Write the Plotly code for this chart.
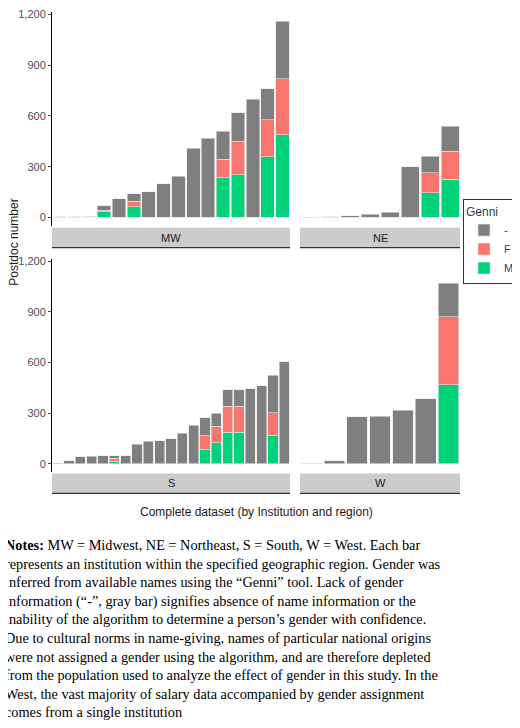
import plotly.graph_objects as go

# per-institution counts (unknown "-", F, M)
mw_dash = [3, 5, 0, 25, 110, 45, 152, 200, 242, 408, 468, 163, 168, 698, 183, 340]
mw_f = [0, 0, 0, 10, 0, 33, 0, 0, 0, 0, 0, 112, 197, 0, 217, 330]
mw_m = [0, 0, 8, 33, 0, 62, 0, 0, 0, 0, 0, 233, 253, 0, 360, 490]

ne_dash = [1, 3, 10, 18, 30, 298, 99, 150]
ne_f = [0, 0, 0, 0, 0, 0, 118, 165]
ne_m = [0, 0, 0, 0, 0, 0, 145, 225]

s_dash = [5, 20, 42, 47, 50, 15, 50, 118, 135, 138, 148, 182, 228, 107, 78, 96, 96, 445, 462, 223, 605]
s_f = [0, 0, 0, 0, 0, 20, 0, 0, 0, 0, 0, 0, 0, 80, 97, 155, 155, 0, 0, 132, 0]
s_m = [0, 0, 0, 0, 0, 15, 0, 0, 0, 0, 0, 0, 0, 88, 125, 187, 187, 0, 0, 170, 0]

w_dash = [0, 20, 280, 282, 318, 385, 198]
w_f = [0, 0, 0, 0, 0, 0, 400]
w_m = [5, 0, 0, 0, 0, 0, 470]

regions = {
    "MW": (mw_dash, mw_f, mw_m),
    "NE": (ne_dash, ne_f, ne_m),
    "S": (s_dash, s_f, s_m),
    "W": (w_dash, w_f, w_m),
}
y_ticks = [0, 300, 600, 900, 1200]
colors = {"-": "#7f7f7f", "F": "#f8766d", "M": "#00d27a"}

W, H = 512.0, 720.0
OFF = 8  # page body margin pushes the figure down/right

def py(p):
    return 1 - (p - OFF) / H

def px(p):
    return (p - OFF) / W

xdom = [(px(52), px(290)), (px(300), px(460))]
ydom = [(py(223), py(8)), (py(471), py(256))]
strips = [(py(245), py(225)), (py(492), py(472))]

fig = go.Figure()
layout = {}
for i, (name, (d, f, m)) in enumerate(regions.items()):
    row, col = divmod(i, 2)
    n = i + 1
    xa = "x" if n == 1 else f"x{n}"
    ya = "y" if n == 1 else f"y{n}"
    cats = [f"{name}{k}" for k in range(len(d))]
    for lab, vals in (("M", m), ("F", f), ("-", d)):
        fig.add_trace(go.Bar(
            x=cats, y=vals, name=lab, xaxis=xa, yaxis=ya,
            marker=dict(color=colors[lab], line=dict(color="#e6e6e6", width=0.6)),
            legendgroup=lab, showlegend=(i == 0),
        ))
    layout["xaxis" if n == 1 else f"xaxis{n}"] = dict(
        domain=xdom[col], anchor=ya, showticklabels=False, ticks="",
        showgrid=False, zeroline=False, showline=False, type="category")
    layout["yaxis" if n == 1 else f"yaxis{n}"] = dict(
        domain=ydom[row], anchor=xa, range=[-50, 1215], tickvals=y_ticks,
        ticktext=[f"{v:,}" for v in y_ticks], showticklabels=(col == 0),
        ticks="outside" if col == 0 else "", ticklen=3, showline=(col == 0),
        linecolor="black", linewidth=1, showgrid=False, zeroline=False,
        tickfont=dict(size=11, color="#4d4d4d"))
    x0, x1 = xdom[col]
    s0, s1 = strips[row]
    fig.add_shape(type="rect", xref="paper", yref="paper", x0=x0, x1=x1, y0=s0, y1=s1,
                  fillcolor="#cccccc", line=dict(width=0))
    fig.add_shape(type="line", xref="paper", yref="paper", x0=x0, x1=x1, y0=s0, y1=s0,
                  line=dict(color="#333333", width=1.2))
    fig.add_annotation(xref="paper", yref="paper", x=(x0 + x1) / 2, y=(s0 + s1) / 2,
                       xanchor="center", yanchor="middle",
                       text=name, showarrow=False, font=dict(size=11, color="#1a1a1a"))

fig.update_layout(**layout)

fig.add_annotation(xref="paper", yref="paper", x=px(14), y=py(240), text="Postdoc number",
                   textangle=-90, xanchor="center", yanchor="middle",
                   showarrow=False, font=dict(size=12, color="#1a1a1a"))
fig.add_annotation(xref="paper", yref="paper", x=px(256), y=py(511),
                   xanchor="center", yanchor="middle",
                   text="Complete dataset (by Institution and region)",
                   showarrow=False, font=dict(size=12, color="#1a1a1a"))

notes = ("<b>Notes:</b> MW = Midwest, NE = Northeast, S = South, W = West. Each bar<br>"
         "represents an institution within the specified geographic region. Gender was<br>"
         "inferred from available names using the \u201cGenni\u201d tool. Lack of gender<br>"
         "information (\u201c-\u201d, gray bar) signifies absence of name information or the<br>"
         "inability of the algorithm to determine a person\u2019s gender with confidence.<br>"
         "Due to cultural norms in name-giving, names of particular national origins<br>"
         "were not assigned a gender using the algorithm, and are therefore depleted<br>"
         "from the population used to analyze the effect of gender in this study. In the<br>"
         "West, the vast majority of salary data accompanied by gender assignment<br>"
         "comes from a single institution")
fig.add_annotation(xref="paper", yref="paper", x=px(3), y=py(534), xanchor="left", yanchor="top",
                   align="left", text=notes, showarrow=False,
                   font=dict(family="Liberation Serif", size=14.3, color="black"))

fig.update_layout(
    width=W, height=H, margin=dict(l=0, r=0, t=0, b=0),
    barmode="stack", bargap=0.1, plot_bgcolor="white", paper_bgcolor="white",
    font=dict(family="Liberation Sans"),
    legend=dict(x=px(463), y=py(196), xanchor="left", yanchor="top",
                title=dict(text="Genni", font=dict(size=12)), traceorder="reversed",
                bordercolor="#333333", borderwidth=1, font=dict(size=11),
                itemwidth=30, tracegroupgap=0),
)

fig.write_html("out.html")
